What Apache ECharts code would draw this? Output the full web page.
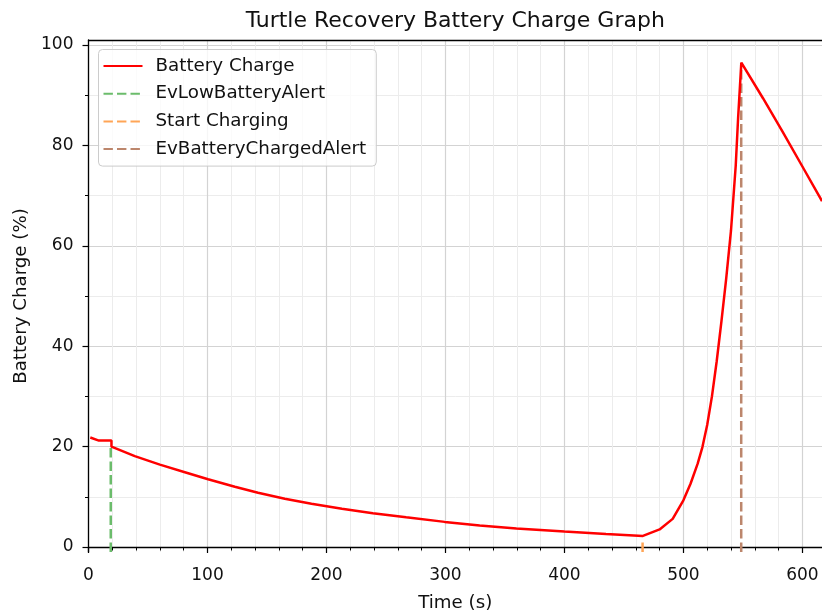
<!DOCTYPE html>
<html>
<head>
<meta charset="utf-8">
<script src="https://cdn.jsdelivr.net/npm/echarts@6/dist/echarts.min.js"></script>
<style>
  html, body { margin: 0; padding: 0; background: #fff; }
  #chart { width: 822px; height: 611px; }
</style>
</head>
<body>
<div id="chart"></div>
<script>
// Battery charge over time (seconds, percent)
const timeS = [1.5, 8.7, 19.3, 19.3, 38.9, 60, 81, 100.5, 123, 142.5, 165, 187.4, 213, 239, 267, 299.4, 328.8, 359.7, 400, 435, 466,
               480, 491, 500, 506, 512, 516, 520, 524, 528, 532, 536, 540, 544, 546, 548.7,
               566.9, 583.7, 600.5, 616.5];
const chargePct = [21.8, 21.2, 21.2, 20.0, 18.1, 16.4, 14.9, 13.5, 12.0, 10.8, 9.6, 8.6, 7.6, 6.7, 5.9, 5.0, 4.3, 3.7, 3.1, 2.6, 2.2,
                   3.5, 5.6, 9.3, 12.6, 16.6, 19.9, 24.3, 30.0, 37.0, 45.0, 53.5, 63.0, 76.0, 85.5, 96.5,
                   89.4, 82.6, 75.6, 68.9];

// Event markers
const eventNames = ['EvLowBatteryAlert', 'Start Charging', 'EvBatteryChargedAlert'];
const eventTimes = [18.7, 465.7, 548.6];
const eventTops = [20.0, 1.0, 96.4];
const eventColors = ['#6bbc6b', '#ffa556', '#bc866c'];

// Axis ticks
const xTicks = [0, 100, 200, 300, 400, 500, 600];
const yTicks = [0, 20, 40, 60, 80, 100];
const xRange = [0, 616.5];
const yRange = [-1, 101];

const FONT = 'DejaVu Sans';
const TEXT = '#111';
const titleText = 'Turtle Recovery Battery Charge Graph';
const titleSize = 22;

// Centre the title over the plot area
const gridLeft = 88.5, gridRight = 0;
const plotCenter = gridLeft + (822 - gridLeft - gridRight) / 2;
const ctx = document.createElement('canvas').getContext('2d');
ctx.font = titleSize + 'px "' + FONT + '"';
const titleW = ctx.measureText(titleText).width;

const chart = echarts.init(document.getElementById('chart'), null, { renderer: 'canvas' });

const series = [{
  name: 'Battery Charge',
  type: 'line',
  data: timeS.map((t, i) => [t, chargePct[i]]),
  symbol: 'none',
  z: 5,
  lineStyle: { color: '#ff0000', width: 2.5 },
  itemStyle: { color: '#ff0000' }
}];
eventNames.forEach((n, i) => {
  series.push({
    name: n,
    type: 'line',
    data: [[eventTimes[i], yRange[0]], [eventTimes[i], eventTops[i]]],
    symbol: 'none',
    z: 3,
    lineStyle: { color: eventColors[i], width: 2.5, type: [9.4, 4.1] },
    itemStyle: { color: eventColors[i] }
  });
});

chart.setOption({
  animation: false,
  backgroundColor: '#ffffff',
  title: {
    text: titleText,
    left: plotCenter - titleW / 2,
    top: 10,
    padding: 0,
    textStyle: { fontFamily: FONT, fontSize: titleSize, fontWeight: 'normal', color: TEXT }
  },
  grid: { left: gridLeft, right: gridRight, top: 40, bottom: 59, containLabel: false, outerBoundsMode: 'none' },
  legend: {
    orient: 'vertical',
    left: 98.5,
    top: 49.5,
    padding: [7.5, 10, 8, 4],
    itemWidth: 39,
    itemHeight: 18,
    itemGap: 9.7,
    backgroundColor: 'rgba(255,255,255,0.8)',
    borderColor: '#cccccc',
    borderWidth: 1,
    borderRadius: 4,
    itemStyle: { opacity: 0 },
    textStyle: { fontFamily: FONT, fontSize: 18.3, color: TEXT, padding: [0, 0, 0, 8], lineHeight: 18 },
    data: ['Battery Charge'].concat(eventNames)
  },
  xAxis: [{
    type: 'value',
    min: xRange[0], max: xRange[1],
    name: 'Time (s)',
    nameLocation: 'middle',
    nameGap: 42,
    nameTextStyle: { fontFamily: FONT, fontSize: 18.2, color: TEXT },
    axisLine: { lineStyle: { color: '#000', width: 1.3 } },
    axisTick: { show: true, length: 6, customValues: xTicks, lineStyle: { color: '#000', width: 1.2 } },
    axisLabel: { customValues: xTicks, margin: 15, fontFamily: FONT, fontSize: 17, color: TEXT },
    minorTick: { show: true, splitNumber: 5, length: 3.5, lineStyle: { color: '#000', width: 1 } },
    splitLine: { show: true, lineStyle: { color: '#d3d3d3', width: 1.2 } },
    minorSplitLine: { show: true, lineStyle: { color: '#ececec', width: 1 } }
  }, {
    type: 'value',
    position: 'top',
    min: xRange[0], max: xRange[1],
    axisLine: { show: true, lineStyle: { color: '#000', width: 1.3 } },
    axisTick: { show: false },
    axisLabel: { show: false },
    splitLine: { show: false }
  }],
  yAxis: {
    type: 'value',
    min: yRange[0], max: yRange[1],
    name: 'Battery Charge (%)',
    nameLocation: 'middle',
    nameGap: 58,
    nameTextStyle: { fontFamily: FONT, fontSize: 18.2, color: TEXT },
    axisLine: { show: true, lineStyle: { color: '#000', width: 1.3 } },
    axisTick: { show: true, length: 6, customValues: yTicks, lineStyle: { color: '#000', width: 1.2 } },
    axisLabel: { customValues: yTicks, margin: 15, fontFamily: FONT, fontSize: 17, color: TEXT },
    minorTick: { show: true, splitNumber: 2, length: 3.5, lineStyle: { color: '#000', width: 1 } },
    splitLine: { show: true, lineStyle: { color: '#d3d3d3', width: 1.2 } },
    minorSplitLine: { show: true, lineStyle: { color: '#ececec', width: 1 } }
  },
  series: series
});
</script>
</body>
</html>
